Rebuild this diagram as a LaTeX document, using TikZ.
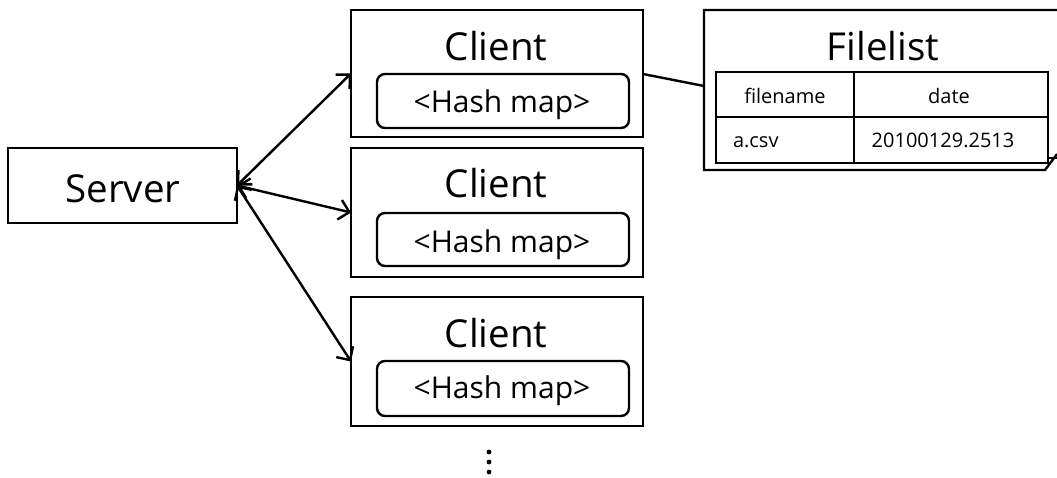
\documentclass[tikz,border=0pt]{standalone}
\usepackage{fontspec}
\setmainfont{Open Sans}
\usetikzlibrary{arrows.meta,calc}
\begin{document}
\begin{tikzpicture}[x=1pt,y=-1pt,
  every node/.style={inner sep=0pt,outer sep=0pt},
  box/.style={draw,line width=2.4pt,rectangle},
  hbox/.style={draw,line width=2.4pt,rectangle,rounded corners=8pt},
  cell/.style={draw,line width=2.6pt,rectangle},
  big/.style={font=\fontsize{38.5}{40}\selectfont,anchor=base},
  mid/.style={font=\fontsize{30}{32}\selectfont,anchor=base},
  small/.style={font=\fontsize{20}{22}\selectfont,anchor=base},
  link/.style={line width=2.4pt,{Straight Barb[length=10pt,width=20pt]}-{Straight Barb[length=10pt,width=20pt]}},
  plain/.style={line width=2.4pt}]
\useasboundingbox (0,0) rectangle (1057,477);
% server
\node[box,minimum width=229pt,minimum height=75pt] (server) at (122.5,185.5) {};
\node[big] (servert) at (123,202) {Server};
% clients
\node[box,minimum width=292pt,minimum height=127pt] (c1) at (497,73.5) {};
\node[box,minimum width=292pt,minimum height=129pt] (c2) at (497,212.5) {};
\node[box,minimum width=292pt,minimum height=129pt] (c3) at (497,361.5) {};
\node[big] (c1t) at (496,60) {Client};
\node[big] (c2t) at (496,197) {Client};
\node[big] (c3t) at (496,347) {Client};
\node[hbox,minimum width=252pt,minimum height=54pt] (h1) at (503,101) {};
\node[hbox,minimum width=252pt,minimum height=53pt] (h2) at (503,239.5) {};
\node[hbox,minimum width=252pt,minimum height=55pt] (h3) at (503,388.5) {};
\node[mid] (h1t) at (502,112) {<Hash map>};
\node[mid] (h2t) at (502,252) {<Hash map>};
\node[mid] (h3t) at (502,398) {<Hash map>};
% arrows
\draw[link] (server.east) -- (c1.west);
\draw[link] (server.east) -- (c2.west);
\draw[link] (server.east) -- (c3.west);
% filelist
\draw[plain] (1057,10) -- (704,10) -- (704,170) -- (1045,170) -- (1057,154);
\draw[line width=1.8pt] (1049,158) -- (1057,158);
\coordinate (fl) at (704,86);
\node[big] (flt) at (883,60) {Filelist};
\node[cell,minimum width=138pt,minimum height=45pt] (t11) at (785,94.5) {};
\node[cell,minimum width=194pt,minimum height=45pt] (t12) at (951,94.5) {};
\node[cell,minimum width=138pt,minimum height=46pt] (t21) at (785,140) {};
\node[cell,minimum width=194pt,minimum height=46pt] (t22) at (951,140) {};
\node[small] (t11t) at (785,103) {filename};
\node[small] (t12t) at (949,103) {date};
\node[small,anchor=base west] (t21t) at (733,147) {a.csv};
\node[small] (t22t) at (943,147) {20100129.2513};
\draw[plain] ($(c1.north east)+(0,64)$) -- (fl);
% dots
\foreach \yy in {452,462,472} \fill (489,\yy) circle (2.4pt);
\end{tikzpicture}
\end{document}
